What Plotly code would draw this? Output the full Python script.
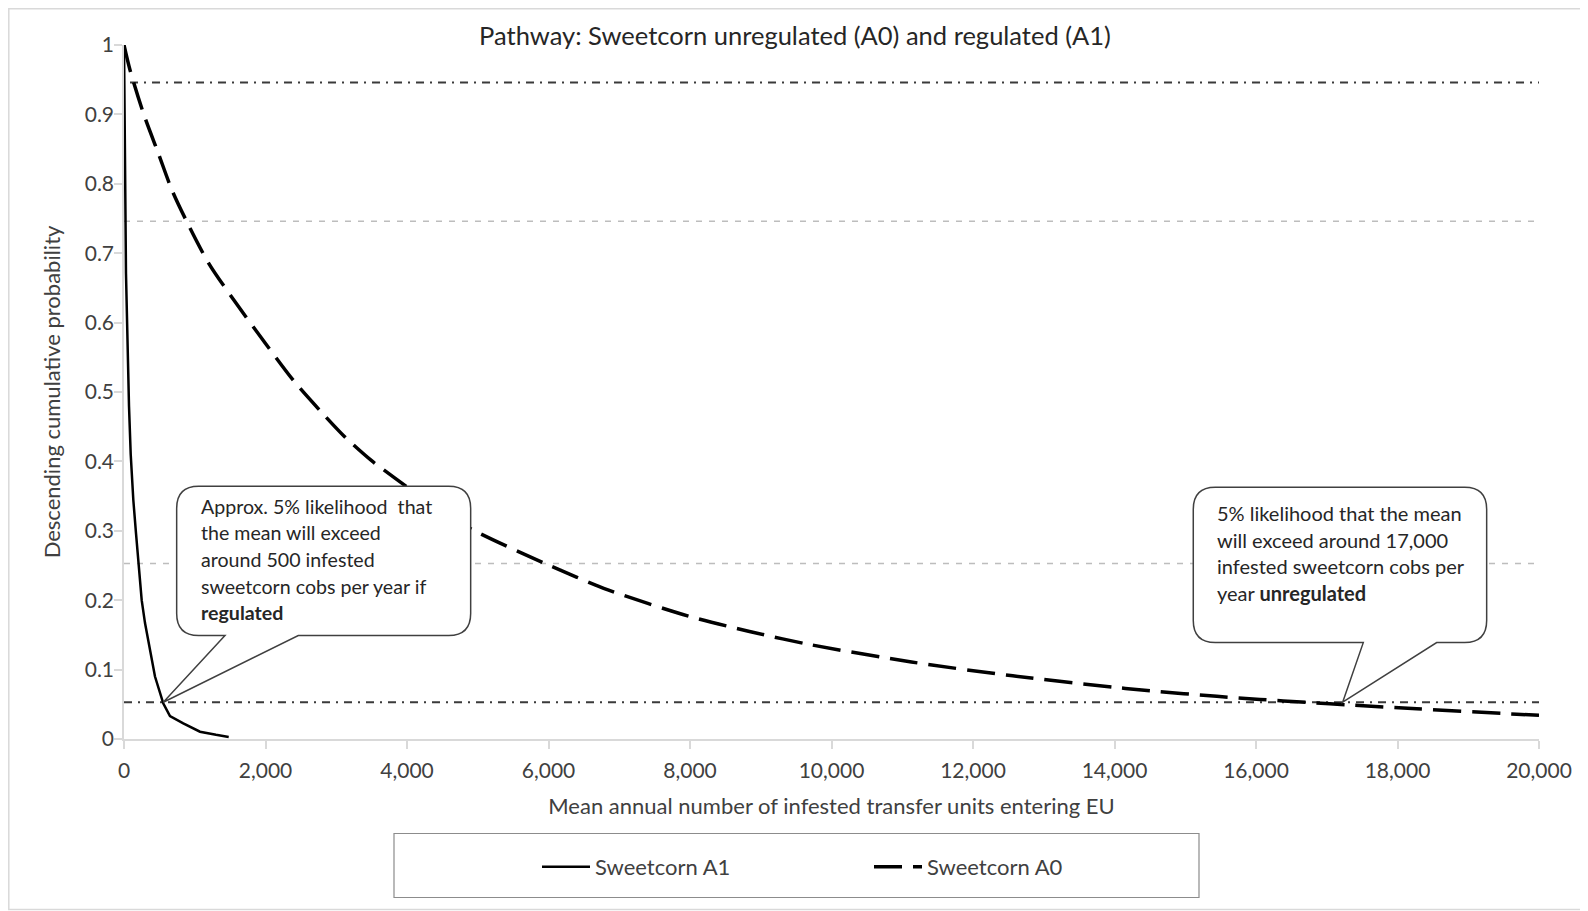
import plotly.graph_objects as go

# ---------------- data ----------------
A1_x = [0, 14, 20, 28, 47, 71, 95, 132, 170, 202, 250, 297, 367, 438, 556, 650, 838, 1074, 1300, 1480]
A1_y = [1.0, 0.887, 0.767, 0.671, 0.575, 0.479, 0.41, 0.344, 0.296, 0.253, 0.2, 0.167, 0.128, 0.09, 0.051, 0.033, 0.0226, 0.0105, 0.006, 0.003]

A0_x = [0, 85, 273, 485, 678, 890, 1200, 1570, 2000, 2400, 2800, 3115, 3500, 3830, 4300, 4900,
        5950, 6840, 7981, 8841, 9697, 11130, 12562, 14000, 14500, 15446, 16057, 16717, 17329,
        18271, 19684, 20000]
A0_y = [1.0, 0.964, 0.902, 0.844, 0.791, 0.745, 0.685, 0.630, 0.570, 0.516, 0.470, 0.436, 0.401,
        0.376, 0.341, 0.303, 0.253, 0.215, 0.177, 0.155, 0.136, 0.111, 0.091, 0.0745, 0.0695,
        0.0615, 0.0570, 0.0528, 0.0490, 0.0435, 0.0357, 0.0342]

ref_lines = {  # level, x start
    "p95": (0.946, 85),
    "p75": (0.746, 0),
    "p25": (0.253, 0),
    "p05": (0.053, 0),
}
x_max = 20000

x_ticks = list(range(0, 20001, 2000))
y_ticks = [round(i * 0.1, 1) for i in range(11)]

callout_tips = [(555, 0.053), (17225, 0.053)]
callout_left_lines = ["Approx. 5% likelihood  that", "the mean will exceed", "around 500 infested",
                      "sweetcorn cobs per year if", "<b>regulated</b>"]
callout_right_lines = ["5% likelihood that the mean", "will exceed around 17,000",
                       "infested sweetcorn cobs per", "year <b>unregulated</b>"]

# ---------------- layout geometry (screen pixels) ----------------
PAGE = 8                      # default body margin of the html page
W, H = 1588 - PAGE, 911 - PAGE
X0S, X1S, Y1S, Y0S = 124, 1539, 45, 739   # plot area in screen pixels
L, R = X0S - PAGE, 1588 - X1S
T, B = Y1S - PAGE, 911 - Y0S
PW, PH = X1S - X0S, Y0S - Y1S

def px_x(px):
    return (px - X0S) / PW

def px_y(py):
    return (Y0S - py) / PH

FONT = "Lato"
TXT = "#404040"

fig = go.Figure()

# reference lines
dashdot = "8px,6px,2px,6px"
for key, (lvl, xs) in ref_lines.items():
    dark = key in ("p95", "p05")
    fig.add_trace(go.Scatter(
        x=[xs, x_max], y=[lvl, lvl], mode="lines", showlegend=False, hoverinfo="skip",
        line=dict(color="#3a3a3a" if dark else "#bdbdbd", width=2 if dark else 1.5,
                  dash=dashdot if dark else "6px,7px")))

fig.add_trace(go.Scatter(x=A1_x, y=A1_y, mode="lines", name="Sweetcorn A1",
                         line=dict(color="black", width=2.5), legend="legend"))
fig.add_trace(go.Scatter(x=A0_x, y=A0_y, mode="lines", name="Sweetcorn A0",
                         line=dict(color="black", width=3.5, dash="28px,11px", shape="spline", smoothing=0.8),
                         legend="legend2"))

# callout bubbles (pixel geometry relative to the tip, y up)
def bubble(Lx, Rx, Bt, Tp, a, b, r=22):
    p = f"M0,0 L{b},{Bt} L{Rx - r},{Bt} Q{Rx},{Bt} {Rx},{Bt + r} L{Rx},{Tp - r} Q{Rx},{Tp} {Rx - r},{Tp} "
    p += f"L{Lx + r},{Tp} Q{Lx},{Tp} {Lx},{Tp - r} L{Lx},{Bt + r} Q{Lx},{Bt} {Lx + r},{Bt} L{a},{Bt} Z"
    return p

bubbles = [
    (callout_tips[0], bubble(13.4, 307.4, 66.7, 216, 61.7, 135)),
    (callout_tips[1], bubble(-149.4, 144, 59.6, 215, 20.6, 94)),
]
for (tx, ty), path in bubbles:
    fig.add_shape(type="path", xref="x", yref="y", xsizemode="pixel", ysizemode="pixel",
                  xanchor=tx, yanchor=ty, path=path, layer="above",
                  line=dict(color="#404040", width=1.5), fillcolor="white")

left_shifts = [196, 169.3, 142.6, 116, 89.3]
for txt, ys in zip(callout_left_lines, left_shifts):
    fig.add_annotation(x=callout_tips[0][0], y=callout_tips[0][1], text=txt, showarrow=False,
                       xanchor="left", yanchor="middle", xshift=36, yshift=ys,
                       font=dict(family=FONT, size=19.6, color="#262626"))
right_shifts = [189.3, 162.6, 136, 109.3]
for txt, ys in zip(callout_right_lines, right_shifts):
    fig.add_annotation(x=callout_tips[1][0], y=callout_tips[1][1], text=txt, showarrow=False,
                       xanchor="left", yanchor="middle", xshift=-127.7, yshift=ys,
                       font=dict(family=FONT, size=20, color="#262626"))

# chart frame and legend box
fig.add_shape(type="rect", xref="paper", yref="paper", x0=px_x(8.8), x1=px_x(1583), y0=px_y(909.5), y1=px_y(8.8),
              line=dict(color="#d9d9d9", width=1.5), layer="below")
fig.add_shape(type="rect", xref="paper", yref="paper", x0=px_x(394), x1=px_x(1199), y0=px_y(897.5), y1=px_y(833.5),
              line=dict(color="#8c8c8c", width=1.2), layer="below")

axis_common = dict(showgrid=False, zeroline=False, showline=True, linecolor="#d9d9d9", linewidth=1.5,
                   ticks="outside", tickcolor="#d9d9d9", ticklen=8, tickwidth=1.5,
                   tickfont=dict(family=FONT, size=21, color=TXT))

fig.update_layout(
    width=W, height=H, paper_bgcolor="white", plot_bgcolor="white",
    margin=dict(l=L, r=R, t=T, b=B, autoexpand=False),
    title=dict(text="Pathway: Sweetcorn unregulated (A0) and regulated (A1)", x=(795 - PAGE) / W,
               xref="container", xanchor="center", y=1 - (36.5 - PAGE) / H, yref="container",
               yanchor="middle", font=dict(family=FONT, size=25.5, color="#262626")),
    xaxis=dict(range=[0, x_max], tickvals=x_ticks, tickformat=",d", automargin=False, ticklabelstandoff=4,
               title=dict(text="Mean annual number of infested transfer units entering EU",
                          font=dict(family=FONT, size=22, color=TXT), standoff=18), **axis_common),
    yaxis=dict(range=[0, 1], tickvals=y_ticks, automargin=False, ticklabelstandoff=-4,
               title=dict(text="Descending cumulative probability",
                          font=dict(family=FONT, size=22, color=TXT), standoff=18), **axis_common),
    legend=dict(x=px_x(537), y=px_y(867), xanchor="left", yanchor="middle", orientation="h",
                bgcolor="rgba(0,0,0,0)", itemwidth=48, font=dict(family=FONT, size=22, color=TXT)),
    legend2=dict(x=px_x(869), y=px_y(867), xanchor="left", yanchor="middle", orientation="h",
                 bgcolor="rgba(0,0,0,0)", itemwidth=48, font=dict(family=FONT, size=22, color=TXT)),
    hovermode=False,
)

fig.write_html("out.html")
